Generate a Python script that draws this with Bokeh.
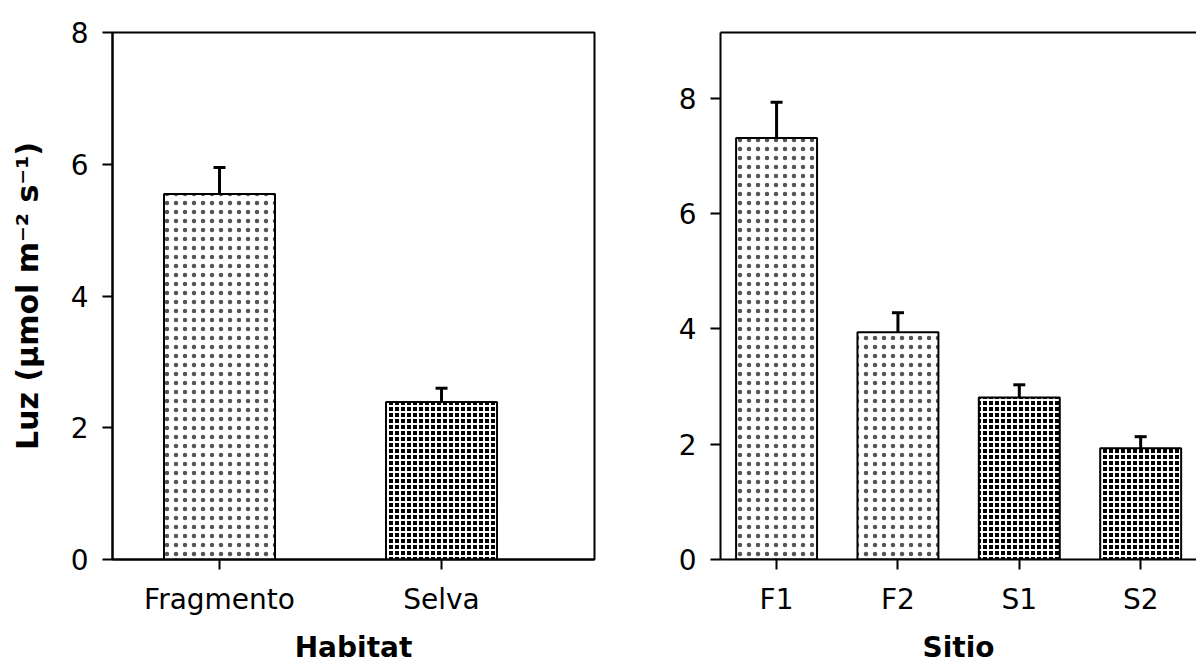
from bokeh.plotting import figure
from bokeh.layouts import row
from bokeh.models import (ColumnDataSource, FixedTicker, Range1d, Whisker, TeeHead, LinearAxis)
from bokeh.embed import file_html
from bokeh.resources import INLINE

# ---------------- data ----------------
habitats = ["Fragmento", "Selva"]
habitat_mean = [5.55, 2.39]
habitat_se = [0.40, 0.21]

sites = ["F1", "F2", "S1", "S2"]
site_habitat = ["Fragmento", "Fragmento", "Selva", "Selva"]
site_mean = [7.31, 3.94, 2.81, 1.93]
site_se = [0.62, 0.34, 0.22, 0.20]

y_ticks = [0, 2, 4, 6, 8]
y_title = "Luz (µmol m⁻² s⁻¹)"
x_title_left = "Habitat"
x_title_right = "Sitio"

# ---------------- style ----------------
FONT = "DejaVu Sans"
TICK_FS = "28px"
TITLE_FS = "28px"
YTITLE_FS = "30px"
H = 666

HATCH = {
    "Fragmento": dict(fill_color="white", hatch_pattern="dot", hatch_color="#555555",
                      hatch_scale=9, hatch_weight=1),
    "Selva": dict(fill_color="black", hatch_pattern="cross", hatch_color="white",
                  hatch_scale=6, hatch_weight=2),
}


def style_axis(ax):
    ax.axis_line_width = 2
    ax.axis_line_color = "black"
    ax.major_tick_line_width = 2
    ax.major_tick_line_color = "black"
    ax.major_tick_in = 0
    ax.major_tick_out = 10
    ax.minor_tick_line_color = None
    ax.major_label_text_font = FONT
    ax.major_label_text_font_size = TICK_FS
    ax.major_label_text_color = "black"
    ax.axis_label_text_font = FONT
    ax.axis_label_text_font_size = TITLE_FS
    ax.axis_label_text_font_style = "bold"
    ax.axis_label_text_color = "black"


def style_fig(p):
    xa, ya = p.below[0], p.left[0]
    style_axis(xa)
    style_axis(ya)
    xa.major_label_standoff = 13
    xa.axis_label_standoff = 12
    ya.major_label_standoff = 14
    ya.axis_label_standoff = 23
    ya.axis_label_text_font_size = YTITLE_FS
    ya.ticker = FixedTicker(ticks=y_ticks)
    p.xgrid.grid_line_color = None
    p.ygrid.grid_line_color = None


def draw_bars(p, names, groups, means, ses, width):
    xs = list(range(1, len(names) + 1))
    for g in sorted(set(groups)):
        idx = [i for i, gg in enumerate(groups) if gg == g]
        src = ColumnDataSource(dict(
            x=[xs[i] for i in idx],
            mean=[means[i] for i in idx],
            top=[means[i] + ses[i] for i in idx],
        ))
        p.vbar(x="x", top="mean", bottom=0, width=width, source=src,
               line_color="black", line_width=2, **HATCH[g])
        w = Whisker(source=src, base="x", lower="mean", upper="top",
                    line_width=3, line_color="black", lower_head=None,
                    upper_head=TeeHead(size=12, line_width=3, line_color="black"))
        p.add_layout(w)
    xa = p.below[0]
    xa.ticker = FixedTicker(ticks=xs)
    xa.major_label_overrides = {x: n for x, n in zip(xs, names)}


# ---------------- left panel ----------------
p1 = figure(width=600, height=H, output_backend="svg", toolbar_location=None,
            x_range=Range1d(0.518, 2.689), y_range=Range1d(0, 8),
            min_border_left=112, min_border_right=6, min_border_top=32, min_border_bottom=107,
            x_axis_label=x_title_left, y_axis_label=y_title)
style_fig(p1)
p1.outline_line_color = "black"
p1.outline_line_width = 2
p1.outline_line_alpha = 1
draw_bars(p1, habitats, habitats, habitat_mean, habitat_se, 0.5)

# ---------------- right panel ----------------
p2 = figure(width=596, height=H, output_backend="svg", toolbar_location=None,
            x_range=Range1d(0.538, 4.46), y_range=Range1d(0, 9.14),
            min_border_left=120, min_border_right=0, min_border_top=32, min_border_bottom=107,
            x_axis_label=x_title_right)
style_fig(p2)
p2.outline_line_color = None
top_axis = LinearAxis(ticker=FixedTicker(ticks=[]), axis_line_width=2, axis_line_color="black",
                      major_tick_in=0, major_tick_out=0, minor_tick_in=0, minor_tick_out=0,
                      major_label_standoff=0)
p2.add_layout(top_axis, "above")
draw_bars(p2, sites, site_habitat, site_mean, site_se, 0.667)

layout = row(p1, p2)
open("out.html", "w").write(file_html(layout, INLINE))
